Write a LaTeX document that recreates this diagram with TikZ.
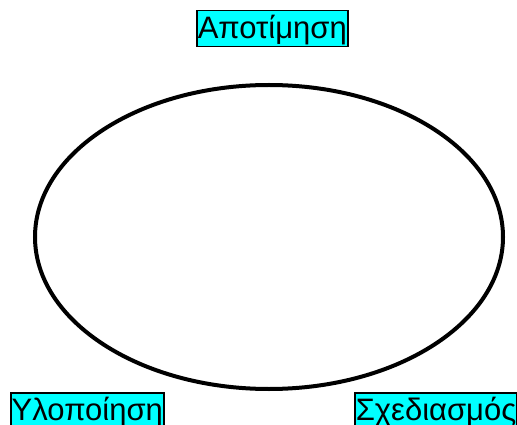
\documentclass[tikz,border=0pt]{standalone}
\usepackage{fontspec}
\setmainfont{Liberation Sans}
\definecolor{phasecyan}{RGB}{0,255,255}
\begin{document}
\begin{tikzpicture}[x=1pt, y=-1pt,
  phase/.style={draw=black, line width=1.5pt, fill=phasecyan, inner xsep=1pt,
    inner ysep=0pt, text height=28pt, text depth=8pt, anchor=north west,
    font=\fontsize{31pt}{31pt}\selectfont}]
  \clip (0,0) rectangle (517,425);
  % cycle
  \draw[line width=4pt] (269,237) ellipse [x radius=234, y radius=152];
  % phases
  \node[phase] (evalbox) at (196,10) {Αποτίμηση};
  \node[phase] (implbox) at (10,392) {Υλοποίηση};
  \node[phase] (designbox) at (354,392) {Σχεδιασμός};
\end{tikzpicture}
\end{document}
